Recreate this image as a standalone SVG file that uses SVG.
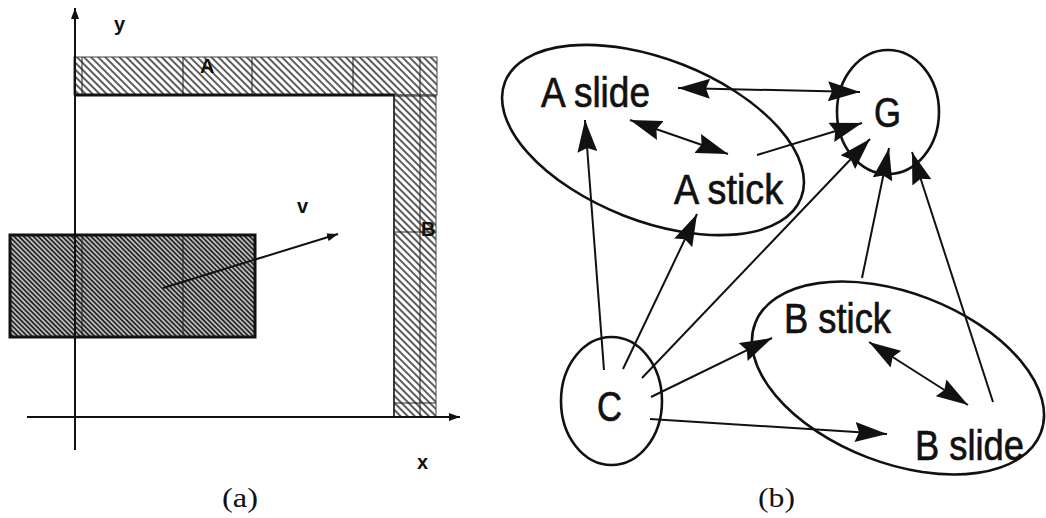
<svg xmlns="http://www.w3.org/2000/svg" width="1046" height="518" viewBox="0 0 1046 518">
<style>
.lbl{font-family:"Liberation Sans",Arial,sans-serif;font-size:43px;fill:#111;stroke:#111;stroke-width:0.7}
.sm{font-family:"Liberation Sans",Arial,sans-serif;font-size:20px;font-weight:bold;fill:#111}
.cap{font-family:"Liberation Serif","Times New Roman",serif;font-size:28px;fill:#111}
.node{fill:none;stroke:#111;stroke-width:2.6}
.edge{fill:none;stroke:#111;stroke-width:2;marker-end:url(#ah)}
.dbl{marker-start:url(#ah)}
.ax{stroke:#111;stroke-width:2;fill:none}
.thin{stroke:#222;stroke-width:1;fill:none}
</style>
<defs>
<marker id="ah" markerUnits="userSpaceOnUse" markerWidth="32" markerHeight="20" refX="32" refY="10" orient="auto-start-reverse">
<path d="M0,0 L32,10 L0,20 L4,10 Z" fill="#111"/>
</marker>
<marker id="as" markerUnits="userSpaceOnUse" markerWidth="11" markerHeight="8" refX="11" refY="4" orient="auto">
<path d="M0,0 L11,4 L0,8 Z" fill="#111"/>
</marker>
<pattern id="hatch" patternUnits="userSpaceOnUse" width="5" height="5" patternTransform="rotate(45)">
<rect width="5" height="5" fill="#fff"/>
<line x1="0" y1="1" x2="5" y2="1" stroke="#333" stroke-width="1.6"/>
</pattern>
<pattern id="dark" patternUnits="userSpaceOnUse" width="3.4" height="3.4" patternTransform="rotate(45)">
<rect width="3.4" height="3.4" fill="#bbb"/>
<line x1="0" y1="0.8" x2="3.4" y2="0.8" stroke="#222" stroke-width="1.7"/>
</pattern>
</defs>

<g id="panel-a">
<rect x="74" y="57" width="363" height="38" fill="url(#hatch)" stroke="#444" stroke-width="1"/>
<rect x="394" y="95" width="42" height="322" fill="url(#hatch)" stroke="#444" stroke-width="1"/>
<line class="thin" x1="82" y1="57" x2="82" y2="95"/>
<line class="thin" x1="183" y1="57" x2="183" y2="95"/>
<line class="thin" x1="252" y1="57" x2="252" y2="95"/>
<line class="thin" x1="353" y1="57" x2="353" y2="95"/>
<line class="thin" x1="420" y1="57" x2="420" y2="417"/>
<line class="thin" x1="394" y1="96" x2="436" y2="96"/>
<line class="thin" x1="394" y1="232" x2="436" y2="232"/>
<line class="thin" x1="394" y1="403" x2="436" y2="403"/>
<line x1="75" y1="95" x2="395" y2="95" stroke="#111" stroke-width="3"/>
<line x1="394" y1="95" x2="394" y2="417" stroke="#222" stroke-width="1.6"/>
<text class="sm" x="200" y="73">A</text>
<text class="sm" x="421" y="236">B</text>
<rect x="10" y="235" width="245" height="102" fill="url(#dark)" stroke="#111" stroke-width="3"/>
<line class="thin" x1="82" y1="235" x2="82" y2="337"/>
<line class="thin" x1="183" y1="235" x2="183" y2="337"/>
<line class="ax" x1="75" y1="450" x2="75" y2="8" marker-end="url(#as)"/>
<line class="ax" x1="27" y1="417" x2="460" y2="417" marker-end="url(#as)"/>
<line class="ax" x1="163" y1="288" x2="338" y2="234" marker-end="url(#as)"/>
<text class="sm" x="114" y="31">y</text>
<text class="sm" x="417" y="469">x</text>
<text class="sm" x="297" y="213">v</text>
<text class="cap" x="222" y="507" textLength="36" lengthAdjust="spacingAndGlyphs">(a)</text>
</g>

<g id="connectors">
<line class="edge dbl" x1="678" y1="88" x2="860" y2="92"/>
<line class="edge dbl" x1="630" y1="120" x2="728" y2="154"/>
<line class="edge" x1="757" y1="155" x2="862" y2="123"/>
<line class="edge" x1="642" y1="378" x2="870" y2="139"/>
<line class="edge" x1="604" y1="370" x2="585" y2="120"/>
<line class="edge" x1="623" y1="369" x2="697" y2="214"/>
<line class="edge" x1="862" y1="278" x2="889" y2="148"/>
<line class="edge" x1="993" y1="402" x2="912" y2="152"/>
<line class="edge" x1="651" y1="397" x2="772" y2="338"/>
<line class="edge" x1="650" y1="419" x2="887" y2="434"/>
<line class="edge dbl" x1="869" y1="342" x2="968" y2="405"/>
</g>

<g id="group-A">
<ellipse class="node" cx="653" cy="140" rx="159" ry="81" transform="rotate(21.4 653 140)"/>
</g>
<g id="A-slide">
<text class="lbl" x="541" y="107" textLength="109" lengthAdjust="spacingAndGlyphs">A slide</text>
</g>
<g id="A-stick">
<text class="lbl" x="674" y="204" textLength="109" lengthAdjust="spacingAndGlyphs">A stick</text>
</g>
<g id="G">
<ellipse class="node" cx="888" cy="112" rx="51" ry="62"/>
<text class="lbl" x="874" y="127" textLength="27" lengthAdjust="spacingAndGlyphs">G</text>
</g>
<g id="C">
<ellipse class="node" cx="611.5" cy="401" rx="50.5" ry="64"/>
<text class="lbl" x="597" y="421" textLength="25" lengthAdjust="spacingAndGlyphs">C</text>
</g>
<g id="group-B">
<ellipse class="node" cx="898" cy="378" rx="153" ry="85" transform="rotate(21 898 378)"/>
</g>
<g id="B-stick">
<text class="lbl" x="784" y="333" textLength="107" lengthAdjust="spacingAndGlyphs">B stick</text>
</g>
<g id="B-slide">
<text class="lbl" x="915" y="460" textLength="109" lengthAdjust="spacingAndGlyphs">B slide</text>
</g>
<text class="cap" x="758" y="507" textLength="37" lengthAdjust="spacingAndGlyphs">(b)</text>
</svg>
